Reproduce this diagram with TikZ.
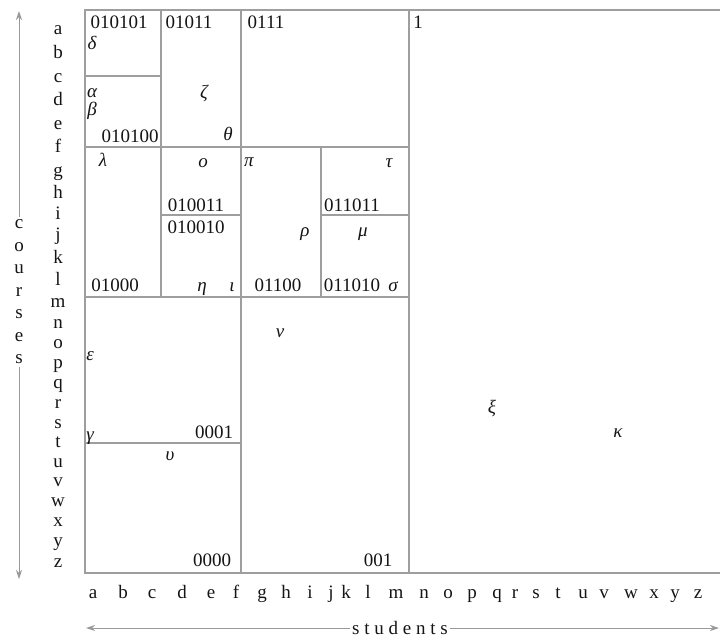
\documentclass[tikz,border=0pt]{standalone}
\usepackage{fontspec}
\setmainfont{Liberation Serif}
\usetikzlibrary{arrows.meta}
\begin{document}
\begin{tikzpicture}[x=1pt,y=-1pt,
  grid/.style={draw=black!38, line width=1.3pt},
  axisline/.style={draw=black!40, line width=1pt},
  tip/.style={-{Stealth[length=9pt,width=6pt]}},
  txt/.style={inner sep=0pt, text height=11pt, text depth=0pt, font=\fontsize{19}{22}\selectfont, text=black!92},
  num/.style={txt, text height=13pt},
  gk/.style={txt, font=\fontsize{19}{22}\selectfont\itshape}]
\useasboundingbox (0,0) rectangle (720,638);
% partition lines
\draw[grid] (720,10) -- (85,10) -- (85,573) -- (720,573);
\draw[grid] (161,10) -- (161,297);
\draw[grid] (241,10) -- (241,573);
\draw[grid] (409,10) -- (409,573);
\draw[grid] (321,147) -- (321,297);
\draw[grid] (85,76) -- (161,76);
\draw[grid] (85,147) -- (409,147);
\draw[grid] (161,215) -- (241,215);
\draw[grid] (321,215) -- (409,215);
\draw[grid] (85,297) -- (409,297);
\draw[grid] (85,443) -- (241,443);
% row letters
\foreach \l/\y in {a/29,b/53,c/77,d/100,e/124,f/147,g/171,h/193,i/214,j/235,k/258,l/280,m/302,n/323,o/343,p/363,q/383,r/403,s/423,t/442,u/462,v/481,w/501,x/521,y/541,z/562}
  \node[txt] (row\l) at (58,\y) {\l};
% column letters
\foreach \l/\x in {a/93,b/123,c/152,d/182,e/211,f/236,g/262,h/286,i/310,j/331,k/346,l/368,m/396,n/424,o/448,p/472,q/497,r/515,s/536,t/558,u/583,v/604,w/631,x/654,y/675,z/698}
  \node[txt] (col\l) at (\x,593) {\l};
% axes
\node[inner sep=3pt, align=center, font=\fontsize{19}{22.5}\selectfont, text=black!92] (courses) at (19,292) {c\\o\\u\\r\\s\\e\\s};
\coordinate (ctop) at (19,11);
\coordinate (cbot) at (19,579);
\draw[axisline,tip] (courses.north) -- (ctop);
\draw[axisline,tip] (courses.south) -- (cbot);
\node[inner sep=2pt, font=\fontsize{19}{22}\selectfont, text=black!92] (students) at (400,628) {s t u d e n t s};
\coordinate (sleft) at (86,628);
\coordinate (sright) at (719,628);
\draw[axisline,tip] (students.west) -- (sleft);
\draw[axisline,tip] (students.east) -- (sright);
% codes
\node[num] (n010101) at (119,22) {010101};
\node[num] (n01011) at (189,22) {01011};
\node[num] (n0111) at (266,22) {0111};
\node[num] (n1) at (418,22) {1};
\node[num] (n010100) at (130,136) {010100};
\node[num] (n010011) at (196,205) {010011};
\node[num] (n010010) at (196,227) {010010};
\node[num] (n01000) at (115,285) {01000};
\node[num] (n01100) at (278,285) {01100};
\node[num] (n011011) at (352,205) {011011};
\node[num] (n011010) at (352,285) {011010};
\node[num] (n0001) at (214,432) {0001};
\node[num] (n0000) at (212,560) {0000};
\node[num] (n001) at (378,560) {001};
% greek labels
\node[gk] (delta) at (92,44) {δ};
\node[gk] (alpha) at (92,92) {α};
\node[gk] (beta) at (92,110) {β};
\node[gk] (zeta) at (204,93) {ζ};
\node[gk] (theta) at (228,135) {θ};
\node[gk] (lambda) at (103,161) {λ};
\node[gk] (omicron) at (203,162) {ο};
\node[gk] (pi) at (249,161) {π};
\node[gk] (tau) at (389,162) {τ};
\node[gk] (rho) at (305,231) {ρ};
\node[gk] (mu) at (363,231) {μ};
\node[gk] (eta) at (202,286) {η};
\node[gk] (iota) at (232,286) {ι};
\node[gk] (sigma) at (393,286) {σ};
\node[gk] (nu) at (280,332) {ν};
\node[gk] (epsilon) at (90,355) {ε};
\node[gk] (gamma) at (90,435) {γ};
\node[gk] (upsilon) at (170,455) {υ};
\node[gk] (xi) at (492,408) {ξ};
\node[gk] (kappa) at (618,432) {κ};
\end{tikzpicture}
\end{document}
